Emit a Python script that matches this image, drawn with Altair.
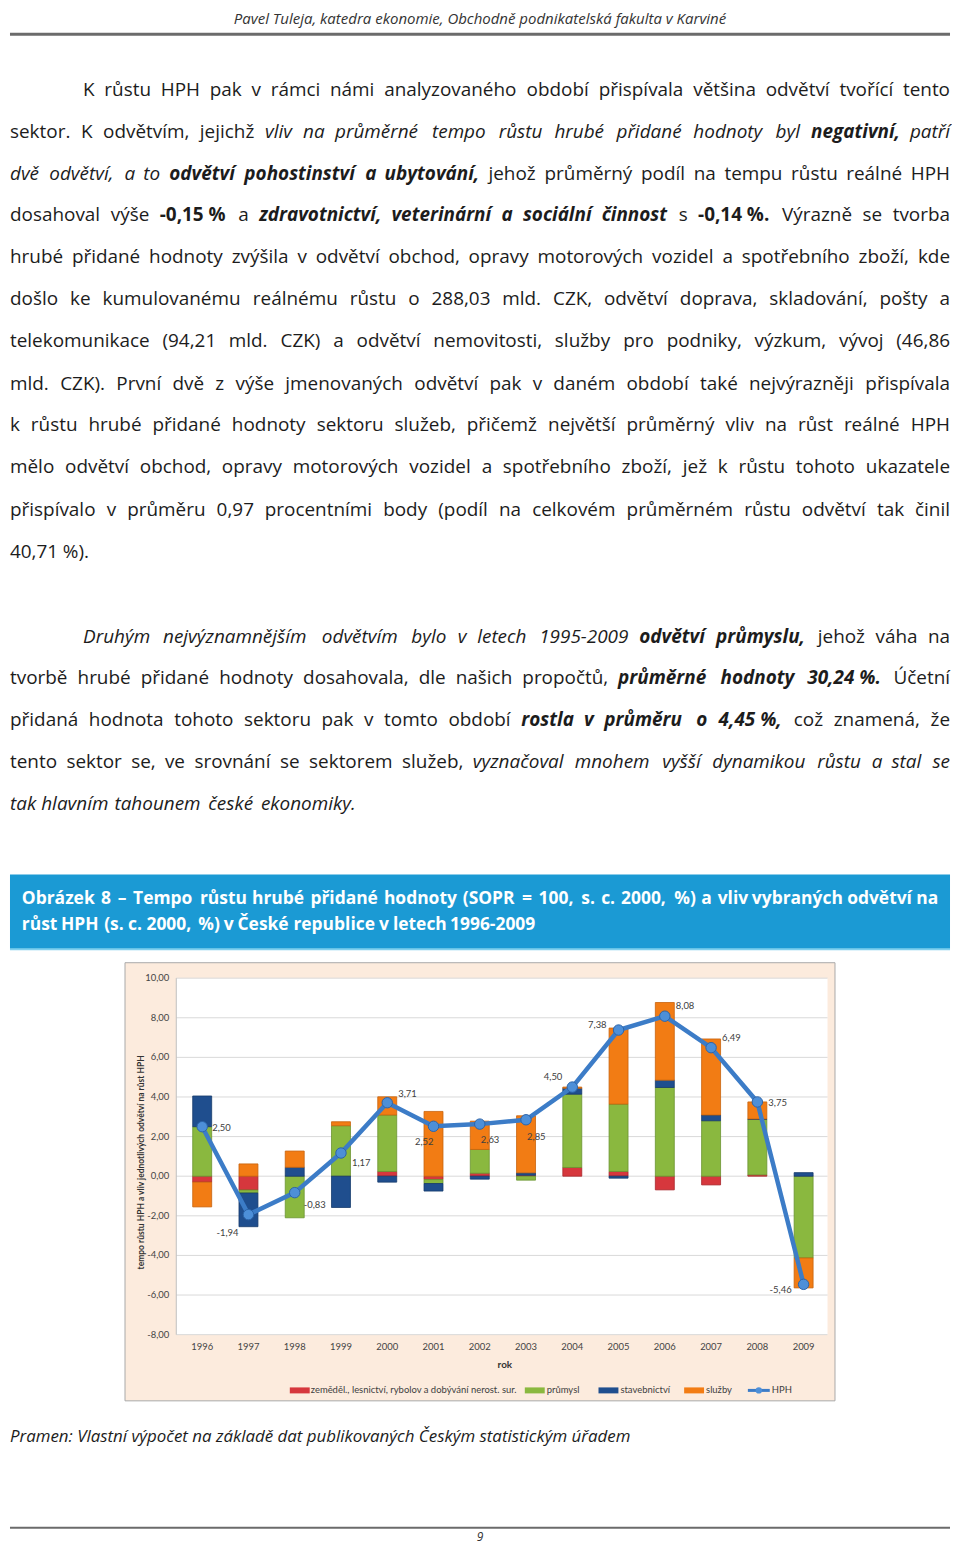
import unicodedata
import altair as alt
import pandas as pd

FONT = "Open Sans"
CFONT = "Lato"

# ---------------------------------------------------------------- chart data
years = [1996, 1997, 1998, 1999, 2000, 2001, 2002, 2003, 2004, 2005, 2006, 2007, 2008, 2009]
sector_names = [
    "zeměděl., lesnictví, rybolov a dobývání nerost. sur.",
    "průmysl",
    "stavebnictví",
    "služby",
]
agri = [-0.30, -0.70, 0.00, 0.00, 0.24, -0.17, 0.15, 0.05, 0.44, 0.24, -0.69, -0.44, 0.07, 0.00]
industry = [2.50, -0.15, -2.10, 2.55, 2.85, -0.20, 1.20, -0.20, 3.70, 3.40, 4.48, 2.80, 2.80, -4.13]
construction = [1.55, -1.70, 0.45, -1.58, -0.30, -0.38, -0.15, 0.12, 0.30, -0.10, 0.37, 0.29, 0.02, 0.18]
services = [-1.25, 0.62, 0.82, 0.20, 0.92, 3.27, 1.43, 2.88, 0.06, 3.84, 3.92, 3.84, 0.86, -1.51]
hph = [2.50, -1.94, -0.83, 1.17, 3.71, 2.52, 2.63, 2.85, 4.50, 7.38, 8.08, 6.49, 3.75, -5.46]
hph_labels = ["2,50", "-1,94", "-0,83", "1,17", "3,71", "2,52", "2,63", "2,85",
              "4,50", "7,38", "8,08", "6,49", "3,75", "-5,46"]
y_tick_values = [10, 8, 6, 4, 2, 0, -2, -4, -6, -8]
y_tick_labels = ["10,00", "8,00", "6,00", "4,00", "2,00", "0,00", "-2,00", "-4,00", "-6,00", "-8,00"]
y_title = "tempo růstu HPH a vliv jednotlivých odvětví na růst HPH"
x_title = "rok"
line_name = "HPH"

# ---------------------------------------------------------------- page text
header_text = "Pavel Tuleja, katedra ekonomie, Obchodně podnikatelská fakulta v Karviné"
NB = "\u00a0"
para1 = [
    [("K růstu HPH pak v rámci námi analyzovaného období přispívala většina odvětví tvořící tento", "n")],
    [("sektor. K odvětvím, jejichž ", "n"), ("vliv na průměrné tempo růstu hrubé přidané hodnoty byl ", "i"),
     ("negativní", "bi"), (", patří", "i")],
    [("dvě odvětví, a to ", "i"), ("odvětví pohostinství a ubytování", "bi"),
     (", jehož průměrný podíl na tempu růstu reálné HPH", "n")],
    [("dosahoval výše ", "n"), ("-0,15" + NB + "%", "b"), (" a ", "n"),
     ("zdravotnictví, veterinární a sociální činnost", "bi"), (" s ", "n"), ("-0,14" + NB + "%", "b"),
     (". Výrazně se tvorba", "n")],
    [("hrubé přidané hodnoty zvýšila v odvětví obchod, opravy motorových vozidel a spotřebního zboží, kde", "n")],
    [("došlo ke kumulovanému reálnému růstu o 288,03 mld. CZK, odvětví doprava, skladování, pošty a", "n")],
    [("telekomunikace (94,21 mld. CZK) a odvětví nemovitosti, služby pro podniky, výzkum, vývoj (46,86", "n")],
    [("mld. CZK). První dvě z výše jmenovaných odvětví pak v daném období také nejvýrazněji přispívala", "n")],
    [("k růstu hrubé přidané hodnoty sektoru služeb, přičemž největší průměrný vliv na růst reálné HPH", "n")],
    [("mělo odvětví obchod, opravy motorových vozidel a spotřebního zboží, jež k růstu tohoto ukazatele", "n")],
    [("přispívalo v průměru 0,97 procentními body (podíl na celkovém průměrném růstu odvětví tak činil", "n")],
    [("40,71 %).", "n")],
]
para2 = [
    [("Druhým nejvýznamnějším odvětvím bylo v letech 1995-2009 ", "i"), ("odvětví průmyslu", "bi"),
     (", jehož váha na", "n")],
    [("tvorbě hrubé přidané hodnoty dosahovala, dle našich propočtů, ", "n"),
     ("průměrné hodnoty 30,24" + NB + "%", "bi"), (". Účetní", "n")],
    [("přidaná hodnota tohoto sektoru pak v tomto období ", "n"), ("rostla v průměru o 4,45" + NB + "%", "bi"),
     (", což znamená, že", "n")],
    [("tento sektor se, ve srovnání se sektorem služeb, ", "n"),
     ("vyznačoval mnohem vyšší dynamikou růstu a stal se", "i")],
    [("tak hlavním tahounem české ekonomiky.", "i")],
]
caption_lines = [
    [("Obrázek 8 – Tempo růstu hrubé přidané hodnoty (SOPR = 100, s. c. 2000, %) a vliv vybraných odvětví na", "c")],
    [("růst HPH (s. c. 2000, %) v České republice v letech 1996-2009", "c")],
]
source_text = "Pramen: Vlastní výpočet na základě dat publikovaných Českým statistickým úřadem"
page_number = "9"

# ---------------------------------------------------------------- layout (page px)
W = 944
H_TOP, H_MID, H_BOT = 955, 441, 143
para1_y = [87, 129, 171, 213, 255, 297, 339, 382, 424, 466, 509, 551]
para2_y = [636, 678, 720, 762, 804]
caption_y = [900, 926]


def tx(px):
    return (px - 4) * W / 952.0


# approximate Open Sans advance widths (em)
OS = {
    'a': .556, 'b': .613, 'c': .476, 'd': .613, 'e': .561, 'f': .339, 'g': .548, 'h': .614, 'i': .253,
    'j': .253, 'k': .525, 'l': .253, 'm': .93, 'n': .614, 'o': .604, 'p': .613, 'q': .613, 'r': .408,
    's': .477, 't': .353, 'u': .614, 'v': .501, 'w': .778, 'x': .524, 'y': .502, 'z': .477,
    'A': .633, 'B': .648, 'C': .631, 'D': .729, 'E': .556, 'F': .516, 'G': .728, 'H': .738, 'I': .279,
    'J': .267, 'K': .614, 'L': .519, 'M': .903, 'N': .754, 'O': .779, 'P': .603, 'Q': .779, 'R': .618,
    'S': .549, 'T': .553, 'U': .728, 'V': .595, 'W': .924, 'X': .577, 'Y': .560, 'Z': .571,
    ',': .246, '.': .266, '(': .296, ')': .296, '-': .322, '%': .823, ' ': .26, NB: .26, '–': .5,
    '=': .572, ':': .266,
}


def em_width(s, st="n"):
    w = 0.0
    for ch in s:
        b = unicodedata.normalize("NFD", ch)[0]
        w += .572 if b.isdigit() else OS.get(b, .56)
    if st in ("b", "bi", "c"):
        w *= 1.07
    if st in ("i", "bi"):
        w *= 0.97
    return w


def tokenize(segments):
    toks = []
    cur, cur_st, cur_gap = "", None, False
    next_gap = False
    for text, st in segments:
        for ch in text:
            if ch == " ":
                if cur:
                    toks.append([cur, cur_st, cur_gap])
                    cur = ""
                next_gap = True
            else:
                if cur and st != cur_st:
                    toks.append([cur, cur_st, cur_gap])
                    cur = ""
                    next_gap = False
                if not cur:
                    cur_st, cur_gap = st, (next_gap and len(toks) > 0)
                    next_gap = False
                cur += ch
    if cur:
        toks.append([cur, cur_st, cur_gap])
    # glue style-changed punctuation onto the previous word
    merged = []
    for t in toks:
        if merged and not t[2]:
            merged[-1][0] += t[0]
        else:
            merged.append(t)
    return merged


def fit_size(lines, px0s, px1, cap, mingap):
    best = cap
    for segs, p0 in zip(lines, px0s):
        toks = tokenize(segs)
        em = sum(em_width(t, st) for t, st, g in toks)
        ngaps = sum(1 for t in toks if t[2])
        best = min(best, (tx(px1) - tx(p0)) / (em + ngaps * mingap))
    return best


p1_starts = [78] + [4] * (len(para1) - 1)
p2_starts = [78] + [4] * (len(para2) - 1)
BODY_FS = fit_size(para1[:-1] + para2[:-1], p1_starts[:-1] + p2_starts[:-1], 956, 19, 0.17)
CAP_FS = fit_size(caption_lines[:1], [16], 944, 17.5, 0.2)
HEADER_FS = (733 - 227) / em_width(header_text, "i")
SOURCE_FS = (642 - 4) / em_width(source_text, "i")


def layout_line(segments, px0, px1, py, fs, justify, yoff):
    x0, x1 = tx(px0), tx(px1)
    toks = tokenize(segments)
    widths = [em_width(t, st) * fs for t, st, g in toks]
    ngaps = sum(1 for t in toks if t[2])
    space = 0.26 * fs
    natural = sum(widths) + ngaps * space
    gapw = space
    if justify and ngaps:
        gapw = space + (x1 - x0 - natural) / ngaps
    rows = []
    x = x0
    for (t, st, g), w in zip(toks, widths):
        if g:
            x += gapw
        rows.append({"x": x, "y": py - yoff, "t": t, "s": st, "a": "left"})
        x += w
    if justify:
        rows[-1]["x"] = x1
        rows[-1]["a"] = "right"
    return rows


rows = []
for i, (segs, py) in enumerate(zip(para1, para1_y)):
    rows += layout_line(segs, p1_starts[i], 956, py, BODY_FS, i < len(para1) - 1, 8)
for i, (segs, py) in enumerate(zip(para2, para2_y)):
    rows += layout_line(segs, p2_starts[i], 956, py, BODY_FS, i < len(para2) - 1, 8)
for i, (segs, py) in enumerate(zip(caption_lines, caption_y)):
    rows += layout_line(segs, 16, 944, py, CAP_FS, i == 0, 8)
words = pd.DataFrame(rows)

STYLES = {"n": ("normal", "normal"), "i": ("italic", "normal"), "b": ("normal", "bold"),
          "bi": ("italic", "bold"), "c": ("normal", "bold")}

one = pd.DataFrame({"k": [0]})

top_layers = [
    alt.Chart(one).mark_text(font=FONT, fontSize=HEADER_FS, fontStyle="italic", color="#333333",
                             align="center", baseline="middle").encode(
        x=alt.value(tx(480)), y=alt.value(7.5), text=alt.value(header_text)),
    alt.Chart(one).mark_rule(color="#6b6b6b", strokeWidth=3).encode(
        x=alt.value(0), x2=alt.value(W), y=alt.value(23)),
    alt.Chart(one).mark_rect(color="#1b9ad4").encode(
        x=alt.value(0), x2=alt.value(W), y=alt.value(867), y2=alt.value(942)),
    alt.Chart(one).mark_rule(color="#7fd0ee", strokeWidth=2).encode(
        x=alt.value(0), x2=alt.value(W), y=alt.value(942)),
]
for st, (fstyle, fweight) in STYLES.items():
    for al in ("left", "right"):
        sub = words[(words.s == st) & (words.a == al)]
        if len(sub) == 0:
            continue
        top_layers.append(
            alt.Chart(sub).mark_text(
                font=FONT, fontSize=CAP_FS if st == "c" else BODY_FS, fontStyle=fstyle, fontWeight=fweight,
                color="#ffffff" if st == "c" else "#1c1c1c", align=al, baseline="middle",
            ).encode(
                x=alt.X("x:Q", scale=None, axis=None),
                y=alt.Y("y:Q", scale=None, axis=None),
                text="t:N",
            )
        )
top = alt.layer(*top_layers).properties(width=W, height=H_TOP)

# ---------------------------------------------------------------- chart panel
bar_rows = []
for k, vals in enumerate([agri, industry, construction, services]):
    for yr, v in zip(years, vals):
        bar_rows.append({"year": yr, "sector": sector_names[k], "value": v, "k": k})
bars_df = pd.DataFrame(bar_rows)
hph_df = pd.DataFrame({"year": years, "hph": hph, "lab": hph_labels, "yl": [str(y) for y in years]})
grid_df = pd.DataFrame({"v": y_tick_values, "lab": y_tick_labels})

sector_colors = ["#d6373d", "#8ab83f", "#1f4e8e", "#f27c14"]
sector_edges = ["#a8262b", "#6a9430", "#163a6b", "#c8620c"]
line_color = "#3c7cc7"

xscale = alt.Scale(domain=years, range=[167, 823], paddingInner=0.59, paddingOuter=0.355)
yscale = alt.Scale(domain=[-8, 10], range=[374, 16], nice=False, zero=False)

lbl_dx = [10, -10, 9, 11, 11, 0, 1, 1, -10, -12, 11, 11, 11, -12]
lbl_dy = [1, 18, 12, 10, -9, 16, 16, 17, -10, -5, -10, -10, 1, 6]
lbl_align = ["left", "right", "left", "left", "left", "right", "left", "left",
             "right", "right", "left", "left", "left", "right"]

mid_layers = [
    alt.Chart(one).mark_rect(fill="#fcebdd", stroke="#a8a8a8", strokeWidth=1).encode(
        x=alt.value(115.5), x2=alt.value(828.5), y=alt.value(0.5), y2=alt.value(440.5)),
    alt.Chart(one).mark_rect(fill="#ffffff").encode(
        x=alt.value(167), x2=alt.value(821), y=alt.value(16), y2=alt.value(374)),
    alt.Chart(grid_df).mark_rule(color="#d9d9d9", strokeWidth=1).encode(
        y=alt.Y("v:Q", scale=yscale, axis=None), x=alt.value(167), x2=alt.value(821)),
    alt.Chart(one).mark_rule(color="#bfbfbf", strokeWidth=1).encode(
        x=alt.value(167), y=alt.value(16), y2=alt.value(374)),
    alt.Chart(grid_df).mark_text(font=CFONT, fontSize=9.5, color="#444444", align="right",
                                 baseline="middle").encode(
        y=alt.Y("v:Q", scale=yscale, axis=None), x=alt.value(160), text="lab:N"),
    alt.Chart(bars_df).mark_bar(strokeWidth=0.8).encode(
        x=alt.X("year:O", scale=xscale, axis=None),
        y=alt.Y("value:Q", scale=yscale, axis=None, stack="zero"),
        color=alt.Color("sector:N", scale=alt.Scale(domain=sector_names, range=sector_colors), legend=None),
        stroke=alt.Stroke("sector:N", scale=alt.Scale(domain=sector_names, range=sector_edges), legend=None),
        order=alt.Order("k:Q"),
    ),
    alt.Chart(hph_df).mark_line(color=line_color, strokeWidth=4.5).encode(
        x=alt.X("year:O", scale=xscale, axis=None),
        y=alt.Y("hph:Q", scale=yscale, axis=None)),
    alt.Chart(hph_df).mark_point(filled=True, size=110, fill="#4d8fd8", stroke="#2c64a8",
                                 strokeWidth=1, opacity=1).encode(
        x=alt.X("year:O", scale=xscale, axis=None),
        y=alt.Y("hph:Q", scale=yscale, axis=None)),
    alt.Chart(hph_df).mark_text(font=CFONT, fontSize=9.5, color="#444444", baseline="middle").encode(
        x=alt.X("year:O", scale=xscale, axis=None), y=alt.value(386), text="yl:N"),
    alt.Chart(one).mark_text(font=CFONT, fontSize=10, fontWeight="bold", color="#333333").encode(
        x=alt.value(497), y=alt.value(404), text=alt.value(x_title)),
    alt.Chart(one).mark_text(font=CFONT, fontSize=8.5, fontWeight="bold", color="#333333", angle=270,
                             baseline="middle").encode(
        x=alt.value(132), y=alt.value(201), text=alt.value(y_title)),
]
for i, yr in enumerate(years):
    mid_layers.append(
        alt.Chart(hph_df).transform_filter(alt.datum.year == yr).mark_text(
            font=CFONT, fontSize=9.5, color="#404040", align=lbl_align[i], baseline="middle",
            dx=lbl_dx[i], dy=lbl_dy[i]).encode(
            x=alt.X("year:O", scale=xscale, axis=None),
            y=alt.Y("hph:Q", scale=yscale, axis=None),
            text="lab:N")
    )

# legend
leg_x = [281, 517, 591, 677]
leg_text_x = [302, 539, 613, 699]
LEG_Y = 430
for k in range(4):
    mid_layers.append(alt.Chart(one).mark_rect(color=sector_colors[k]).encode(
        x=alt.value(leg_x[k]), x2=alt.value(leg_x[k] + 20), y=alt.value(LEG_Y - 3), y2=alt.value(LEG_Y + 3)))
    mid_layers.append(alt.Chart(one).mark_text(font=CFONT, fontSize=9.5, color="#404040", align="left",
                                               baseline="middle").encode(
        x=alt.value(leg_text_x[k]), y=alt.value(LEG_Y), text=alt.value(sector_names[k])))
mid_layers.append(alt.Chart(one).mark_rule(color=line_color, strokeWidth=3).encode(
    x=alt.value(741), x2=alt.value(763), y=alt.value(LEG_Y)))
mid_layers.append(alt.Chart(one).mark_point(filled=True, size=40, fill="#4d8fd8", opacity=1).encode(
    x=alt.value(752), y=alt.value(LEG_Y)))
mid_layers.append(alt.Chart(one).mark_text(font=CFONT, fontSize=9.5, color="#404040", align="left",
                                           baseline="middle").encode(
    x=alt.value(765), y=alt.value(LEG_Y), text=alt.value(line_name)))

mid = alt.layer(*mid_layers).properties(width=W, height=H_MID)

# ---------------------------------------------------------------- bottom panel
bot = alt.layer(
    alt.Chart(one).mark_text(font=FONT, fontSize=SOURCE_FS, fontStyle="italic", color="#1c1c1c",
                             align="left", baseline="middle").encode(
        x=alt.value(0), y=alt.value(36), text=alt.value(source_text)),
    alt.Chart(one).mark_rule(color="#6b6b6b", strokeWidth=2).encode(
        x=alt.value(0), x2=alt.value(W), y=alt.value(127)),
    alt.Chart(one).mark_text(font=FONT, fontSize=12, fontStyle="italic", color="#333333",
                             align="center", baseline="middle").encode(
        x=alt.value(tx(480)), y=alt.value(136), text=alt.value(page_number)),
).properties(width=W, height=H_BOT)

chart = alt.vconcat(top, mid, bot, spacing=0, bounds="flush").properties(
    padding=0, background="#ffffff"
).configure_view(stroke=None)

chart.save("out.html", embed_options={"renderer": "svg", "actions": False})
